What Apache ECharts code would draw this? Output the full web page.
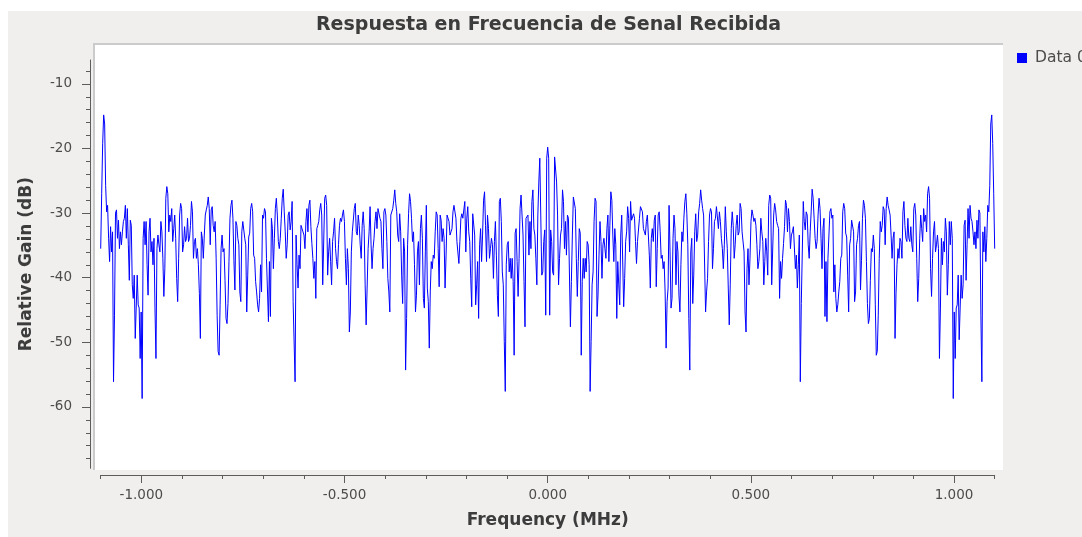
<!DOCTYPE html>
<html>
<head>
<meta charset="utf-8">
<script src="https://cdn.jsdelivr.net/npm/echarts@6/dist/echarts.min.js"></script>
<style>
html,body{margin:0;padding:0;background:#ffffff;}
#chart{width:1082px;height:537px;}
</style>
</head>
<body>
<div id="chart"></div>
<script>
// ---------------- data ----------------
const chartTitle = 'Respuesta en Frecuencia de Senal Recibida';
const xAxisTitle = 'Frequency (MHz)';
const yAxisTitle = 'Relative Gain (dB)';
const seriesName = 'Data 0';

const freqMin = -1.1;   // MHz
const freqMax = 1.1;    // MHz
const gainMin = -69.5;  // dB
const gainMax = -6.3;   // dB

const xMajorTicks = [-1.0, -0.5, 0.0, 0.5, 1.0];
const xMinorTicks = [-1.1,-1.0,-0.9,-0.8,-0.7,-0.6,-0.5,-0.4,-0.3,-0.2,-0.1,0,0.1,0.2,0.3,0.4,0.5,0.6,0.7,0.8,0.9,1.0,1.1];
const yMajorTicks = [-60, -50, -40, -30, -20, -10];
const yMinorTicks = [-68,-66,-64,-62,-60,-58,-56,-54,-52,-50,-48,-46,-44,-42,-40,-38,-36,-34,-32,-30,-28,-26,-24,-22,-20,-18,-16,-14,-12,-10,-8];

// gain (dB) from -1.1 MHz up to and including 0 MHz
const gainLeft = [
-35.5,-27,-19.2,-14.8,-16.2,-25.7,-29.8,-28.8,-33.9,-37.5,-32.1,
-36,-32.9,-56.1,-45.8,-30,-29.5,-33.9,-31.1,-35.5,-32.9,
-34.9,-32.9,-31.3,-30.8,-28.8,-33.9,-29.3,-34.9,-40.4,-31.1,
-31.9,-41.1,-43.2,-39.6,-49.4,-49.6,-39.6,-44.2,-44.7,-52.5,
-45.3,-58.7,-33.9,-31.3,-34.9,-31.3,-38,-42.7,-32.9,-30.8,
-36,-34.4,-38,-33.9,-44.7,-52.5,-35.5,-33.4,-34.9,-36,
-31.3,-32.9,-37,-42.9,-38.6,-27.7,-25.9,-27,-32.9,
-30.3,-31.3,
-29.3,-34.4,-32.4,-30.3,-33.9,-40.1,-43.7,-37,-30.3,-28.5,
-29.3,-36,-34.9,-32.1,-34.4,-33.9,-30.8,-34.4,-33.9,-31.9,
-28.2,-29.8,-37,-34.4,-33.9,-37,-35.5,-38,-42.4,-49.4,
-32.9,-33.9,-37,-33.4,-30.3,-29.5,-28.8,-27.5,-29.3,
-34.9,-29.5,-29,-31.9,-32.9,-31.3,-37,-45.8,-51.4,
-52,-44.2,-35.5,-33.4,-36,-35.5,-40.4,-46.3,-47.1,-44,
-37.5,-30.8,-28.8,-28,-30.8,-37.3,-41.9,-31.3,-31.9,-33.9,
-34.9,-42.2,-43.7,-32.9,-31.3,-31.1,-33.9,-34.9,-45.3,
-39.6,-33.7,-33.1,-29.3,-28.5,-29.8,-36.5,-37,-40.6,-42.2,
-44.2,-45.3,-43.2,-38,-42.2,-30.3,-30.8,-29.3,-29.8,-37,
-37,-46.8,-37.5,-46,-30.8,-32.4,-38.6,-33.9,-29.3,-27.7,
-30.3,-34.4,-35.5,-33.9,-30.8,-27.7,-26.3,-29.8,-32.9,
-37,-34.9,-30.3,-29.8,-32.6,-31.3,-28.2,-43.7,-44,-56.1,
-33.4,-38,-41.6,-36.5,-38.6,-31.9,-32.1,-32.9,-33.4,-35.5,
-31.3,-29.3,-32.9,-28.8,-28,-32.1,-34.7,-37,-40.1,-37.5,
-43.2,-32.4,-31.9,-31.3,-29.5,-28.5,-30.3,-41.1,
-41.1,-27.7,-27.2,-28.8,-39.6,-36,-33.9,-37.5,-41.1,-34.4,
-32.9,-30.8,-35.5,-37.5,-38.6,-34.9,-31.9,-30.8,-31.3,-30.3,
-29.5,-31.3,-37,-41.1,-35.5,-38.6,-48.4,-45.3,-36,-32.9,
-32.9,-29.3,-28.5,-32.9,-33.4,-30.3,-31.9,-34.9,-37,-31.9,
-29.8,-32.4,-41.1,-47.3,-41.6,-35.5,-32.9,-29,-34.9,-38.6,
-35.5,-33.9,-31.3,-29.8,-32.4,-29.3,-29,-30.8,-31.3,-35.5,
-38.6,-29.8,-29.3,-30.3,-34.4,-40.1,-42.2,-45.3,-30.3,-30.3,
-29.3,-28,-26.4,-28.5,-29.8,-33.4,-34.4,
-30.1,-32.9,-39.6,-44,-33.9,-36,-54.3,-46.3,-34.9,-30.1,
-27,-28.2,-30.8,-34.4,-32.9,-38,-45.3,-42.7,-36,-34.4,
-41.1,-32.4,-30.3,-33.9,-43.2,-44.7,-36,-28.8,-41.6,-43.7,
-50.9,-42.2,-37.5,-38.6,-36.5,-37,-32.9,-29.8,-30.3,-35.5,
-41.4,-30.3,-31.1,-34.4,-32.4,-33.9,-41.6,-36.5,-30.3,-30.3,
-31.3,-33.4,-32.9,-32.4,-29.8,-28.8,-29,-30.8,-34.4,-34.4,
-37.8,-34.4,-30.8,-30.1,-30.8,-31.1,-28.2,-36,-30.8,-29,
-32.9,-34.4,-40.1,-44.5,-30.1,-30.3,-33.4,
-44.2,-41.1,-37.5,-46.3,-34.9,-32.4,-37.5,-33.4,-28,-26.7,
-31.9,-37.5,-30.3,-32.4,-37,-35.5,-33.9,-34.9,-40.1,-34.4,
-31.3,-36.5,-42.7,-46,-28.2,-27.7,-31.3,-39.1,-41.1,-49.9,
-57.6,-38,-34.9,-34.4,-39.1,-37,-40.1,-37,-40.6,-52,
-33.1,-32.4,-37.5,-42.9,-37,-29.3,-27.2,-27.5,-33.4,-40.6,
-47.6,-30.8,-30.8,-30.3,-36.5,-31.3,-35.5,-28.2,-26.4,-32.4,
-33.4,-37,-41.1,-30.3,-25.2,-21.5,-21.3,-39.6,-39.1,-34.4,
-32.6,-45.8,-21.5,-19.8
];

// gain (dB) above 0 MHz up to +1.1 MHz
const gainRight = [
-21.5,-45.8,-32.6,
-34.4,-39.1,-39.6,-21.3,-21.5,-25.2,-30.3,-41.1,-37,-33.4,
-32.4,-26.4,-28.2,-35.5,-31.3,-36.5,-30.3,-30.8,-30.8,-47.6,
-40.6,-33.4,-27.5,-27.2,-29.3,-37,-42.9,-37.5,-32.4,-33.1,
-52,-40.6,-37,-40.1,-37,-39.1,-34.4,-34.9,-38,-57.6,
-49.9,-41.1,-39.1,-31.3,-27.7,-28.2,-46,-42.7,-36.5,-31.3,
-34.4,-40.1,-34.9,-33.9,-35.5,-37,-32.4,-30.3,-37.5,-31.9,
-26.7,-28,-33.4,-37.5,-32.4,-34.9,-46.3,-37.5,-41.1,-44.2,
-33.4,-30.3,-30.1,-44.5,-40.1,-34.4,-32.9,
-29,-30.8,-36,-28.2,-31.1,-30.8,-30.1,-30.8,-34.4,-37.8,
-34.4,-34.4,-30.8,-29,-28.8,-29.8,-32.4,-32.9,-33.4,-31.3,
-30.3,-30.3,-36.5,-41.6,-33.9,-32.4,-34.4,-31.1,-30.3,-41.4,
-35.5,-30.3,-29.8,-32.9,-37,-36.5,-38.6,-37.5,-42.2,-50.9,
-43.7,-41.6,-28.8,-36,-44.7,-43.2,-33.9,-30.3,-32.4,-41.1,
-34.4,-36,-42.7,-45.3,-38,-32.9,-34.4,-30.8,-28.2,-27,
-30.1,-34.9,-46.3,-54.3,-36,-33.9,-44,-39.6,-32.9,-30.1,
-34.4,-33.4,-29.8,-28.5,-26.4,-28,-29.3,
-30.3,-30.3,-45.3,-42.2,-40.1,-34.4,-30.3,-29.3,-29.8,-38.6,
-35.5,-31.3,-30.8,-29,-29.3,-32.4,-29.8,-31.3,-33.9,-35.5,
-38.6,-34.9,-29,-32.9,-35.5,-41.6,-47.3,-41.1,-32.4,-29.8,
-31.9,-37,-34.9,-31.9,-30.3,-33.4,-32.9,-28.5,-29.3,-32.9,
-32.9,-36,-45.3,-48.4,-38.6,-35.5,-41.1,-37,-31.3,-29.5,
-30.3,-31.3,-30.8,-31.9,-34.9,-38.6,-37.5,-35.5,-30.8,-32.9,
-34.4,-41.1,-37.5,-33.9,-36,-39.6,-28.8,-27.2,-27.7,-41.1,
-41.1,-30.3,-28.5,-29.5,-31.3,-31.9,-32.4,-43.2,
-37.5,-40.1,-37,-34.7,-32.1,-28,-28.8,-32.9,-29.3,-31.3,
-35.5,-33.4,-32.9,-32.1,-31.9,-38.6,-36.5,-41.6,-38,-33.4,
-56.1,-44,-43.7,-28.2,-31.3,-32.6,-29.8,-30.3,-34.9,-37,
-32.9,-29.8,-26.3,-27.7,-30.8,-33.9,-35.5,-34.4,-30.3,
-27.7,-29.3,-33.9,-38.6,-32.4,-30.8,-46,-37.5,-46.8,-37,
-37,-29.8,-29.3,-30.8,-30.3,-42.2,-38,-43.2,-45.3,-44.2,
-42.2,-40.6,-37,-36.5,-29.8,-28.5,-29.3,-33.1,-33.7,-39.6,
-45.3,-34.9,-33.9,-31.1,-31.3,-32.9,-43.7,-42.2,-34.9,
-33.9,-31.9,-31.3,-41.9,-37.3,-30.8,-28,-28.8,-30.8,-37.5,
-44,-47.1,-46.3,-40.4,-35.5,-36,-33.4,-35.5,-44.2,-52,
-51.4,-45.8,-37,-31.3,-32.9,-31.9,-29,-29.5,-34.9,
-29.3,-27.5,-28.8,-29.5,-30.3,-33.4,-37,-33.9,-32.9,
-49.4,-42.4,-38,-35.5,-37,-33.9,-34.4,-37,-29.8,-28.2,
-31.9,-33.9,-34.4,-30.8,-33.9,-34.4,-32.1,-34.9,-36,-29.3,
-28.5,-30.3,-37,-43.7,-40.1,-33.9,-30.3,-32.4,-34.4,-29.3,
-31.3,-30.3,
-32.9,-27,-25.9,-27.7,-38.6,-42.9,-37,-32.9,-31.3,
-36,-34.9,-33.4,-35.5,-52.5,-44.7,-33.9,-38,-34.4,-36,
-30.8,-32.9,-42.7,-38,-31.3,-34.9,-31.3,-33.9,-58.7,-45.3,
-52.5,-44.7,-44.2,-39.6,-49.6,-49.4,-39.6,-43.2,-41.1,-31.9,
-31.1,-40.4,-34.9,-29.3,-33.9,-28.8,-30.8,-31.3,-32.9,-34.9,
-32.9,-35.5,-31.1,-33.9,-29.5,-30,-45.8,-56.1,-32.9,-36,
-32.1,-37.5,-33.9,-28.8,-29.8,-25.7,-16.2,-14.8,-19.2,-27,-35.5
];

// ---------------- chart ----------------
const gains = gainLeft.concat(gainRight);
const binWidth = (freqMax - freqMin) / (gains.length - 1); // FFT bin spacing
const points = gains.map((g, i) => [freqMin + i * binWidth, g]);

const FONT = 'DejaVu Sans';
const AXIS_COLOR = '#5c5c5c';
const LABEL_COLOR = '#4c4c4c';

const chart = echarts.init(document.getElementById('chart'), null, {renderer: 'canvas'});

const option = {
  animation: false,
  backgroundColor: 'transparent',
  graphic: [
    {type: 'rect', z: -100, silent: true, shape: {x: 8, y: 11, width: 1074, height: 526}, style: {fill: '#f0efed'}},
    {type: 'rect', z: -99, silent: true, shape: {x: 94, y: 45, width: 909, height: 425}, style: {fill: '#ffffff'}},
    {type: 'line', z: -98, silent: true, shape: {x1: 93, y1: 44, x2: 1003, y2: 44}, style: {stroke: '#cbcbcb', lineWidth: 2}},
    {type: 'line', z: -98, silent: true, shape: {x1: 94, y1: 44, x2: 94, y2: 470}, style: {stroke: '#cbcbcb', lineWidth: 2}}
  ],
  title: {
    text: chartTitle,
    left: 548.5,
    top: 16,
    textAlign: 'center',
    padding: 0,
    textStyle: {fontFamily: FONT, fontSize: 19, fontWeight: 'bold', color: '#3c3c3c'}
  },
  legend: {
    data: [seriesName],
    left: 1017,
    top: 50,
    padding: 0,
    icon: 'rect',
    itemWidth: 10,
    itemHeight: 10,
    textStyle: {fontFamily: FONT, fontSize: 15.5, color: LABEL_COLOR, padding: [0, 0, 0, 3]}
  },
  grid: {left: 100.7, right: 87.3, top: 60, bottom: 68.7, containLabel: false},
  xAxis: [
    {
      type: 'value', min: freqMin, max: freqMax, position: 'bottom', offset: 6.7,
      name: xAxisTitle, nameLocation: 'middle', nameGap: 37,
      nameTextStyle: {fontFamily: FONT, fontSize: 17, fontWeight: 'bold', color: '#3c3c3c'},
      axisLine: {show: true, onZero: false, lineStyle: {color: AXIS_COLOR, width: 1}},
      axisTick: {show: true, length: 8, customValues: xMajorTicks, lineStyle: {color: AXIS_COLOR}},
      axisLabel: {show: true, customValues: xMajorTicks, margin: 13, fontFamily: FONT, fontSize: 13.5, color: LABEL_COLOR,
        formatter: v => v.toFixed(3)},
      splitLine: {show: false}
    },
    {
      type: 'value', min: freqMin, max: freqMax, position: 'bottom', offset: 6.7,
      axisLine: {show: false, onZero: false},
      axisTick: {show: true, length: 4, customValues: xMinorTicks, lineStyle: {color: AXIS_COLOR}},
      axisLabel: {show: false, customValues: xMinorTicks},
      splitLine: {show: false}
    }
  ],
  yAxis: [
    {
      type: 'value', min: gainMin, max: gainMax, position: 'left', offset: 10.7,
      name: yAxisTitle, nameLocation: 'middle', nameGap: 55,
      nameTextStyle: {fontFamily: FONT, fontSize: 17, fontWeight: 'bold', color: '#3c3c3c'},
      axisLine: {show: true, onZero: false, lineStyle: {color: AXIS_COLOR, width: 1}},
      axisTick: {show: true, length: 8, customValues: yMajorTicks, lineStyle: {color: AXIS_COLOR}},
      axisLabel: {show: true, customValues: yMajorTicks, margin: 18, fontFamily: FONT, fontSize: 13.5, color: LABEL_COLOR},
      splitLine: {show: false}
    },
    {
      type: 'value', min: gainMin, max: gainMax, position: 'left', offset: 10.7,
      axisLine: {show: false, onZero: false},
      axisTick: {show: true, length: 4, customValues: yMinorTicks, lineStyle: {color: AXIS_COLOR}},
      axisLabel: {show: false, customValues: yMinorTicks},
      splitLine: {show: false}
    }
  ],
  series: [
    {
      name: seriesName,
      type: 'line',
      xAxisIndex: 0,
      yAxisIndex: 0,
      data: points,
      showSymbol: false,
      symbol: 'none',
      sampling: null,
      itemStyle: {color: '#0000ff'},
      lineStyle: {color: '#0000ff', width: 1},
      emphasis: {disabled: true}
    }
  ]
};

chart.setOption(option);
</script>
</body>
</html>
